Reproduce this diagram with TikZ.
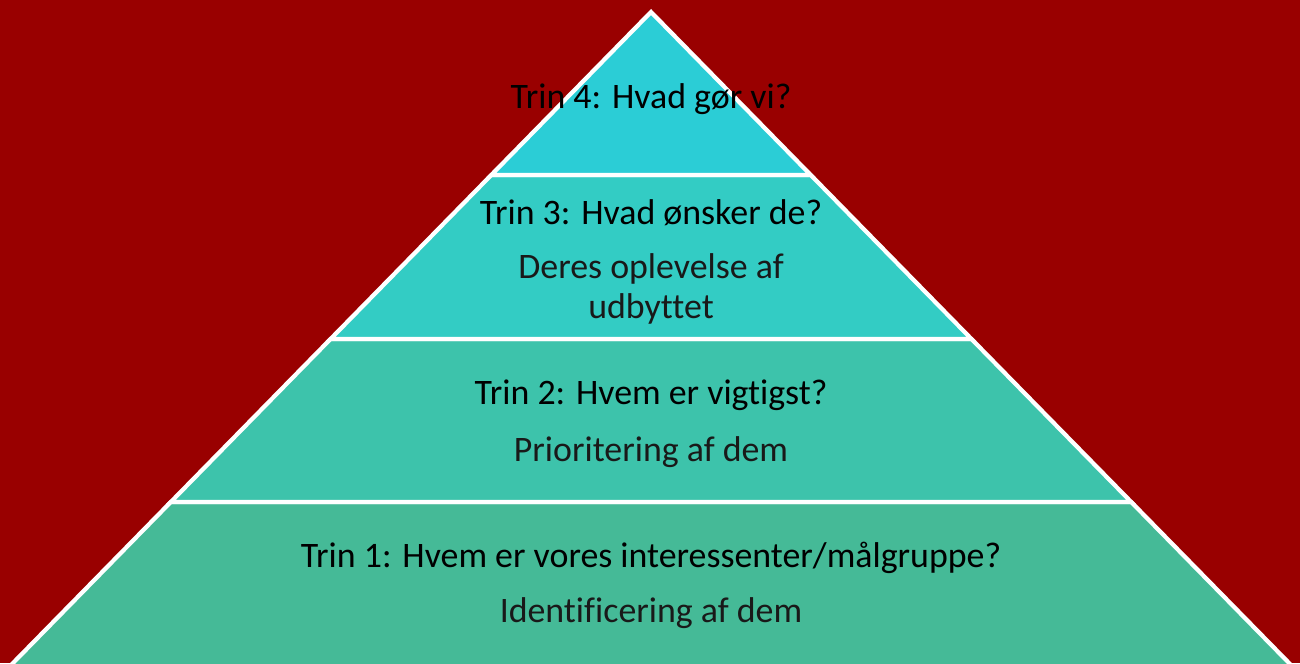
\documentclass[tikz,border=0pt]{standalone}
\usepackage{fontspec}
\setmainfont[Ligatures=NoCommon]{Carlito}
\definecolor{bgred}{RGB}{153,0,0}
\definecolor{bandA}{RGB}{43,205,214}
\definecolor{bandB}{RGB}{51,204,196}
\definecolor{bandC}{RGB}{61,195,171}
\definecolor{bandD}{RGB}{69,186,151}
\begin{document}
\begin{tikzpicture}[
  band/.style={draw=white, line width=1.2pt, line join=miter},
  title/.style={font=\fontsize{10.2}{12}\selectfont, text=black, inner sep=0pt},
  sub/.style={font=\fontsize{10.2}{12}\selectfont, text=black!90, inner sep=0pt}
]
\useasboundingbox (0,0) rectangle (13,6.63);
\fill[bgred] (0,0) rectangle (13,6.63);
\begin{scope}
\clip (0,0) rectangle (13,6.63);
\filldraw[band, fill=bandD] ({6.51-0.98*(6.51+0.3)},-0.3) -- ({6.51+0.98*(6.51+0.3)},-0.3) -- ({6.51+0.98*(6.51-1.61)},1.61) -- ({6.51-0.98*(6.51-1.61)},1.61) -- cycle;
\filldraw[band, fill=bandC] ({6.51-0.98*(6.51-1.61)},1.61) -- ({6.51+0.98*(6.51-1.61)},1.61) -- ({6.51+0.98*(6.51-3.24)},3.24) -- ({6.51-0.98*(6.51-3.24)},3.24) -- cycle;
\filldraw[band, fill=bandB] ({6.51-0.98*(6.51-3.24)},3.24) -- ({6.51+0.98*(6.51-3.24)},3.24) -- ({6.51+0.98*(6.51-4.88)},4.88) -- ({6.51-0.98*(6.51-4.88)},4.88) -- cycle;
\filldraw[band, fill=bandA] ({6.51-0.98*(6.51-4.88)},4.88) -- ({6.51+0.98*(6.51-4.88)},4.88) -- (6.51,6.51) -- cycle;
\end{scope}
\node[title] (t4) at (6.51,5.64) {Trin 4: Hvad gør vi?};
\node[title] (t3) at (6.51,4.50) {Trin 3: Hvad ønsker de?};
\node[sub] (s3a) at (6.51,3.94) {Deres oplevelse af};
\node[sub] (s3b) at (6.51,3.54) {udbyttet};
\node[title] (t2) at (6.51,2.68) {Trin 2: Hvem er vigtigst?};
\node[sub] (s2) at (6.51,2.11) {Prioritering af dem};
\node[title] (t1) at (6.51,1.05) {Trin 1: Hvem er vores interessenter/målgruppe?};
\node[sub] (s1) at (6.51,0.50) {Identificering af dem};
\end{tikzpicture}
\end{document}
